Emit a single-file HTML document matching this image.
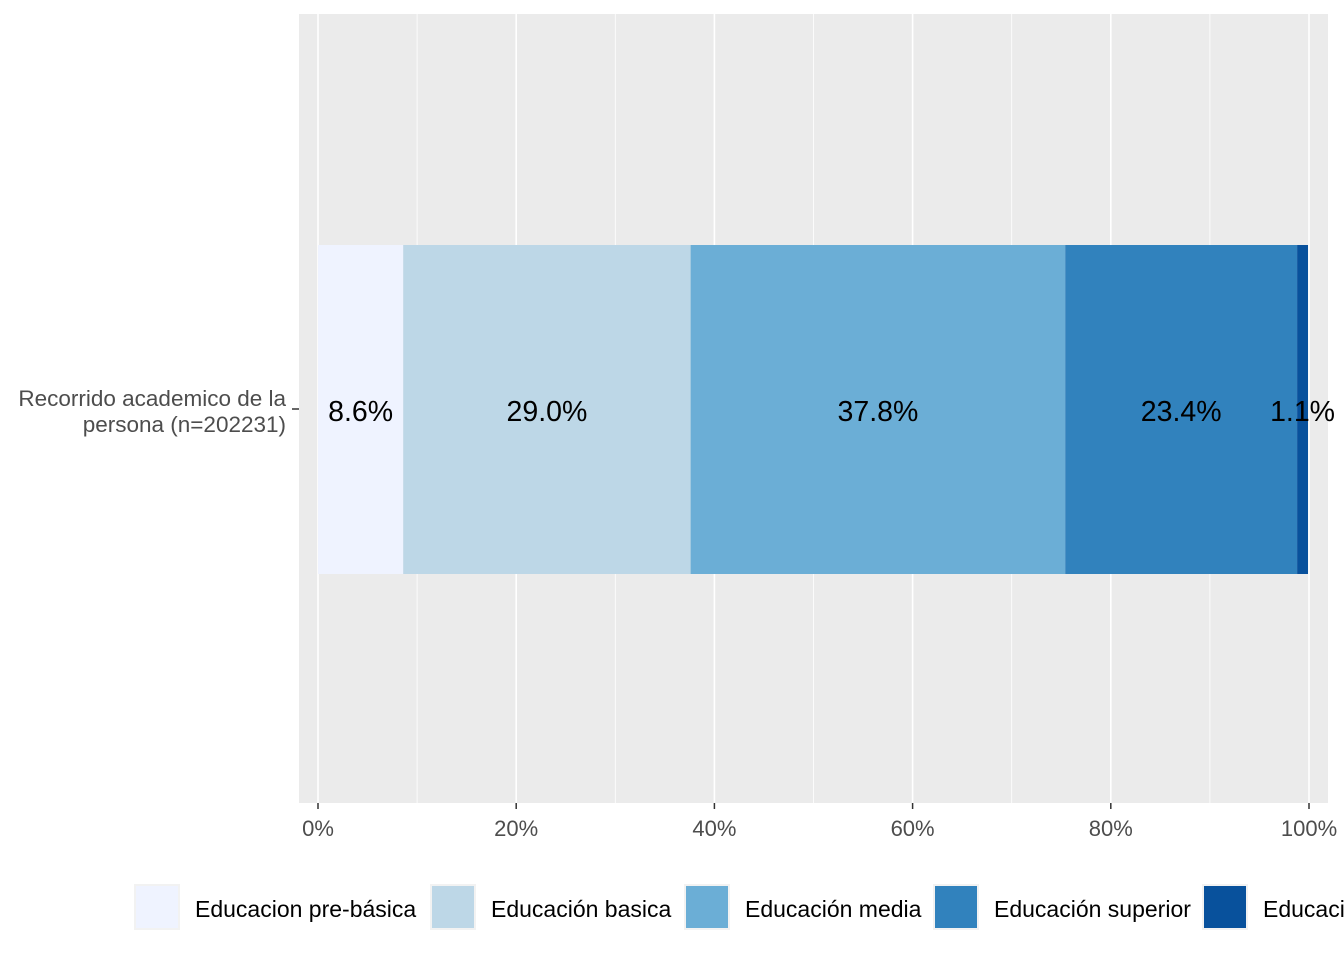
<!DOCTYPE html>
<html><head><meta charset="utf-8"><style>
body{margin:0;background:#fff;width:1344px;height:960px;overflow:hidden}
svg{display:block;font-family:"Liberation Sans",sans-serif}
</style></head><body>
<svg id="c" width="1344" height="960"></svg>
<script>
const categories=["Educacion pre-básica","Educación basica","Educación media","Educación superior","Educación"];
const legendLabels=["Educacion pre-básica","Educación basica","Educación media","Educación superior","Educaci"];
const values=[8.6,29.0,37.8,23.4,1.1];
const ticks=[0,20,40,60,80,100];
const colors=["#EFF3FF","#BDD7E7","#6BAED6","#3182BD","#08519C"];
const svgEl=document.getElementById('c');
const NS="http://www.w3.org/2000/svg";
function mk(t,a,p){const e=document.createElementNS(NS,t);for(const k in a)e.setAttribute(k,a[k]);(p||svgEl).appendChild(e);return e;}
const xs=v=>318+v*(1309-318)/100;
const pTop=14,pBot=803;
const panel=mk('rect',{x:299,y:pTop,width:1029,height:pBot-pTop,fill:'#EBEBEB'});


for(let v=10;v<100;v+=20){const l=mk('line',{x1:xs(v),x2:xs(v),y1:pTop,y2:pBot,stroke:'#fff','stroke-width':0.8});

}
ticks.forEach(v=>{const l=mk('line',{x1:xs(v),x2:xs(v),y1:pTop,y2:pBot,stroke:'#fff','stroke-width':1.6});


const tk=mk('line',{x1:xs(v),x2:xs(v),y1:pBot,y2:pBot+6,stroke:'#333','stroke-width':1.5});


const t=mk('text',{x:xs(v),y:836,'text-anchor':'middle','font-size':22,fill:'#4D4D4D'});t.textContent=v+'%';

});
let cum=0;
values.forEach((v,i)=>{const r=mk('rect',{x:xs(cum),y:245,width:xs(cum+v)-xs(cum),height:329,fill:colors[i]});


cum+=v;});
cum=0;
values.forEach((v,i)=>{const t=mk('text',{x:(xs(cum)+xs(cum+v))/2,y:421,'text-anchor':'middle','font-size':28.5,fill:'#000'});t.textContent=v.toFixed(1)+'%';


cum+=v;});
const yt=mk('line',{x1:292,x2:299,y1:409,y2:409,stroke:'#333','stroke-width':1.5});


["Recorrido academico de la","persona (n=202231)"].forEach((s,i)=>{const t=mk('text',{x:286,y:406+i*26,'text-anchor':'end','font-size':22.5,fill:'#4D4D4D'});t.textContent=s;

});
const lx=[134,430,684,933,1202];
legendLabels.forEach((s,i)=>{const g=mk('g',{});


mk('rect',{x:lx[i],y:884,width:46,height:46,fill:'#F2F2F2'},g);
mk('rect',{x:lx[i]+2,y:886,width:42,height:42,fill:colors[i]},g);
const t=mk('text',{x:lx[i]+61,y:917,'font-size':23,fill:'#000'},g);t.textContent=s;});
</script>
</body></html>
